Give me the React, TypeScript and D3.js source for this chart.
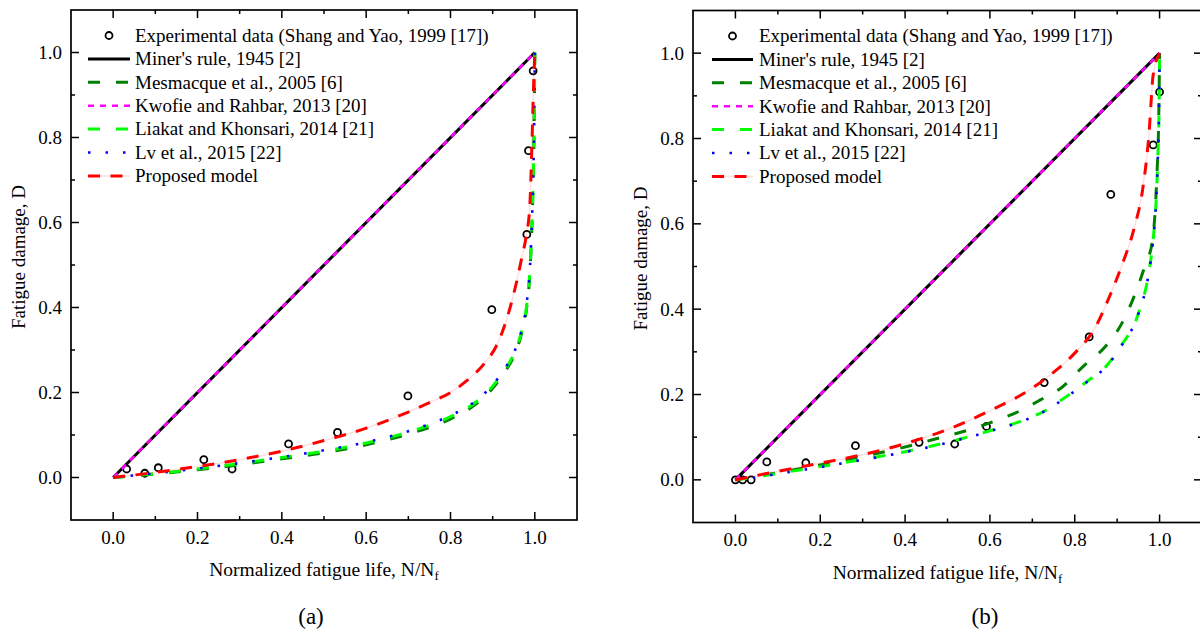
import React from 'react';
import * as d3 from 'd3';

// ---------- shared axis data ----------
const majorTicks = [0, 0.2, 0.4, 0.6, 0.8, 1.0];
const minorTicks = [0.1, 0.3, 0.5, 0.7, 0.9];
const axisDomain = [-0.1, 1.1];

const legendLabels = [
  'Experimental data (Shang and Yao, 1999 [17])',
  "Miner's rule, 1945 [2]",
  'Mesmacque et al., 2005 [6]',
  'Kwofie and Rahbar, 2013 [20]',
  'Liakat and Khonsari, 2014 [21]',
  'Lv et al., 2015 [22]',
  'Proposed model',
];

// ---------- linear rules (both panels) ----------
const minerX = [0, 1];
const minerY = [0, 1];
const kwofieX = [0, 1];
const kwofieY = [0, 1];

// ---------- panel (a) ----------
const aExpX = [0.032, 0.075, 0.107, 0.215, 0.282, 0.416, 0.532, 0.699, 0.898, 0.981, 0.985, 0.996];
const aExpY = [0.020, 0.010, 0.023, 0.042, 0.020, 0.079, 0.106, 0.192, 0.395, 0.572, 0.769, 0.957];

const aCurveX = [0, 0.1, 0.2, 0.3, 0.4, 0.5, 0.6, 0.7, 0.8, 0.85, 0.9, 0.93, 0.95, 0.97, 0.98, 0.99, 0.995, 0.998, 1.0];
const aMesmacqueY = [0, 0.008, 0.018, 0.030, 0.044, 0.058, 0.077, 0.102, 0.138, 0.165, 0.210, 0.250, 0.285, 0.345, 0.395, 0.515, 0.655, 0.800, 1.0];
const aLiakatY = [0, 0.009, 0.020, 0.033, 0.047, 0.062, 0.081, 0.107, 0.143, 0.170, 0.215, 0.255, 0.290, 0.350, 0.400, 0.520, 0.660, 0.800, 1.0];
const aLvY = [0, 0.010, 0.021, 0.034, 0.048, 0.064, 0.083, 0.109, 0.146, 0.173, 0.218, 0.258, 0.293, 0.352, 0.405, 0.525, 0.665, 0.805, 1.0];

const aProposedX = [0, 0.1, 0.2, 0.3, 0.4, 0.5, 0.6, 0.7, 0.75, 0.8, 0.84, 0.88, 0.91, 0.94, 0.956, 0.968, 0.98, 0.988, 0.993, 0.997, 1.0];
const aProposedY = [0, 0.012, 0.026, 0.042, 0.062, 0.087, 0.116, 0.154, 0.176, 0.200, 0.229, 0.268, 0.312, 0.395, 0.457, 0.512, 0.571, 0.637, 0.780, 0.920, 1.0];

// ---------- panel (b) ----------
const bExpX = [0, 0.017, 0.037, 0.074, 0.166, 0.283, 0.433, 0.517, 0.592, 0.728, 0.834, 0.885, 0.985, 1.0];
const bExpY = [0, 0, 0, 0.042, 0.040, 0.080, 0.088, 0.084, 0.125, 0.228, 0.335, 0.669, 0.785, 0.909];

const bMesmacqueX = [0, 0.05, 0.1, 0.2, 0.3, 0.4, 0.48, 0.55, 0.62, 0.68, 0.72, 0.77, 0.82, 0.87, 0.91, 0.94, 0.965, 0.983, 0.993, 0.998, 1.0];
const bMesmacqueY = [0, 0.008, 0.017, 0.035, 0.055, 0.077, 0.098, 0.117, 0.141, 0.166, 0.188, 0.217, 0.266, 0.310, 0.365, 0.430, 0.500, 0.560, 0.700, 0.850, 1.0];

const bLiakatX = [0, 0.05, 0.1, 0.2, 0.3, 0.4, 0.5, 0.6, 0.68, 0.73, 0.78, 0.835, 0.87, 0.91, 0.95, 0.973, 0.985, 0.992, 0.996, 0.999, 1.0];
const bLiakatY = [0, 0.007, 0.015, 0.031, 0.048, 0.066, 0.088, 0.115, 0.140, 0.162, 0.195, 0.235, 0.262, 0.315, 0.390, 0.477, 0.565, 0.657, 0.760, 0.890, 1.0];
const bLvY = [0, 0.006, 0.014, 0.030, 0.047, 0.065, 0.087, 0.114, 0.139, 0.161, 0.194, 0.234, 0.261, 0.314, 0.389, 0.476, 0.565, 0.657, 0.760, 0.890, 1.0];

const bProposedX = [0, 0.05, 0.1, 0.2, 0.3, 0.4, 0.5, 0.6, 0.7, 0.75, 0.8, 0.85, 0.88, 0.91, 0.94, 0.96, 0.975, 0.985, 1.0];
const bProposedY = [0, 0.010, 0.020, 0.039, 0.059, 0.085, 0.118, 0.162, 0.215, 0.252, 0.297, 0.360, 0.425, 0.500, 0.590, 0.680, 0.810, 0.950, 1.0];

// ---------- styles ----------
const FONT = "'Liberation Serif', 'Times New Roman', serif";

type Style = { color: string; width: number; dash?: string; under?: boolean };
const styles: Record<string, Style> = {
  miner: { color: '#000000', width: 3 },
  mesmacque: { color: '#008000', width: 3, dash: '12 16' },
  kwofie: { color: '#ff00ff', width: 2.6, dash: '6 6' },
  liakat: { color: '#00ff00', width: 3, dash: '12 16' },
  lv: { color: '#0000ff', width: 2.6, dash: '2.5 15' },
  proposed: { color: '#ff0000', width: 3, dash: '12 10.5', under: true },
};

type Series = { key: string; xs: number[]; ys: number[] };

type PanelProps = {
  left: number; right: number; top: number; bottom: number;
  exp: { xs: number[]; ys: number[] };
  series: Series[];
  legendLineX0: number; legendLineX1: number; legendTextX: number;
  label: string; labelX: number;
};

function Panel(p: PanelProps) {
  const x = d3.scaleLinear().domain(axisDomain).range([p.left, p.right]);
  const y = d3.scaleLinear().domain(axisDomain).range([p.bottom, p.top]);
  const line = d3.line<[number, number]>()
    .x(d => x(d[0]))
    .y(d => y(d[1]))
    .curve(d3.curveMonotoneX);

  const cx = (p.left + p.right) / 2;
  const cy = (p.top + p.bottom) / 2;
  const legendRow = (i: number) => p.top + 25.5 + i * 23.4;

  const tickStroke = { stroke: '#000', strokeWidth: 1.5 };

  return (
    <g>
      {/* experimental points */}
      {p.exp.xs.map((v, i) => (
        <circle key={'e' + i} cx={x(v)} cy={y(p.exp.ys[i])} r={3.5}
          fill="none" stroke="#000" strokeWidth={1.8} />
      ))}
      {/* model curves */}
      {p.series.map(s => {
        const st = styles[s.key];
        const pts = s.xs.map((v, i) => [v, s.ys[i]] as [number, number]);
        const d = line(pts) || '';
        return (
          <g key={s.key}>
            {st.under && (
              <path d={d} fill="none" stroke="rgba(255,0,0,0.13)" strokeWidth={1.5} />
            )}
            <path d={d} fill="none" stroke={st.color} strokeWidth={st.width}
              strokeDasharray={st.dash} />
          </g>
        );
      })}

      {/* frame */}
      <rect x={p.left} y={p.top} width={p.right - p.left} height={p.bottom - p.top}
        fill="none" stroke="#000" strokeWidth={1.7} />

      {/* ticks */}
      {majorTicks.map(t => (
        <g key={'M' + t}>
          <line x1={x(t)} x2={x(t)} y1={p.bottom} y2={p.bottom - 8} {...tickStroke} />
          <line x1={x(t)} x2={x(t)} y1={p.top} y2={p.top + 8} {...tickStroke} />
          <line x1={p.left} x2={p.left + 8} y1={y(t)} y2={y(t)} {...tickStroke} />
          <line x1={p.right} x2={p.right - 8} y1={y(t)} y2={y(t)} {...tickStroke} />
          <text x={x(t)} y={p.bottom + 23.5} textAnchor="middle" fontFamily={FONT} fontSize={19}>
            {d3.format('.1f')(t)}
          </text>
          <text x={p.left - 9} y={y(t) + 6.5} textAnchor="end" fontFamily={FONT} fontSize={19}>
            {d3.format('.1f')(t)}
          </text>
        </g>
      ))}
      {minorTicks.map(t => (
        <g key={'m' + t}>
          <line x1={x(t)} x2={x(t)} y1={p.bottom} y2={p.bottom - 4} {...tickStroke} />
          <line x1={x(t)} x2={x(t)} y1={p.top} y2={p.top + 4} {...tickStroke} />
          <line x1={p.left} x2={p.left + 4} y1={y(t)} y2={y(t)} {...tickStroke} />
          <line x1={p.right} x2={p.right - 4} y1={y(t)} y2={y(t)} {...tickStroke} />
        </g>
      ))}

      {/* axis titles */}
      <text x={cx} y={p.bottom + 56} textAnchor="middle" fontFamily={FONT} fontSize={19.5}>
        Normalized fatigue life, N/N
        <tspan fontSize={13} dy={4}>f</tspan>
      </text>
      <text transform={`translate(${p.left - 46},${cy - 8}) rotate(-90)`} textAnchor="middle"
        fontFamily={FONT} fontSize={19}>
        Fatigue damage, D
      </text>

      {/* panel label */}
      <text x={p.labelX} y={624} textAnchor="middle" fontFamily={FONT} fontSize={23}>
        {p.label}
      </text>

      {/* legend */}
      {legendLabels.map((lab, i) => {
        const ry = legendRow(i);
        let sample: React.ReactNode = null;
        if (i === 0) {
          sample = <circle cx={(p.legendLineX0 + p.legendLineX1) / 2} cy={ry} r={3.5}
            fill="none" stroke="#000" strokeWidth={1.8} />;
        } else {
          const key = p.series[i - 1].key;
          const st = styles[key];
          sample = (
            <g>
              {st.under && <line x1={p.legendLineX0} x2={p.legendLineX1} y1={ry} y2={ry}
                stroke="rgba(255,0,0,0.13)" strokeWidth={1.5} />}
              <line x1={p.legendLineX0} x2={p.legendLineX1} y1={ry} y2={ry}
                stroke={st.color} strokeWidth={st.width} strokeDasharray={st.dash} />
            </g>
          );
        }
        return (
          <g key={'l' + i}>
            {sample}
            <text x={p.legendTextX} y={ry + 6.3} fontFamily={FONT} fontSize={19}>{lab}</text>
          </g>
        );
      })}
    </g>
  );
}

export default function App() {
  const aSeries: Series[] = [
    { key: 'miner', xs: minerX, ys: minerY },
    { key: 'mesmacque', xs: aCurveX, ys: aMesmacqueY },
    { key: 'kwofie', xs: kwofieX, ys: kwofieY },
    { key: 'liakat', xs: aCurveX, ys: aLiakatY },
    { key: 'lv', xs: aCurveX, ys: aLvY },
    { key: 'proposed', xs: aProposedX, ys: aProposedY },
  ];
  const bSeries: Series[] = [
    { key: 'miner', xs: minerX, ys: minerY },
    { key: 'mesmacque', xs: bMesmacqueX, ys: bMesmacqueY },
    { key: 'kwofie', xs: kwofieX, ys: kwofieY },
    { key: 'liakat', xs: bLiakatX, ys: bLiakatY },
    { key: 'lv', xs: bLiakatX, ys: bLvY },
    { key: 'proposed', xs: bProposedX, ys: bProposedY },
  ];
  return (
    <svg width={1200} height={633} style={{ position: 'absolute', left: 0, top: 0, background: '#fff' }}>
      <rect x={0} y={0} width={1200} height={633} fill="#fff" />
      <Panel left={71} right={577} top={10} bottom={520}
        exp={{ xs: aExpX, ys: aExpY }} series={aSeries}
        legendLineX0={88} legendLineX1={130} legendTextX={135}
        label="(a)" labelX={311} />
      <Panel left={693} right={1202} top={10.5} bottom={522.5}
        exp={{ xs: bExpX, ys: bExpY }} series={bSeries}
        legendLineX0={712} legendLineX1={753} legendTextX={759}
        label="(b)" labelX={985} />
    </svg>
  );
}
